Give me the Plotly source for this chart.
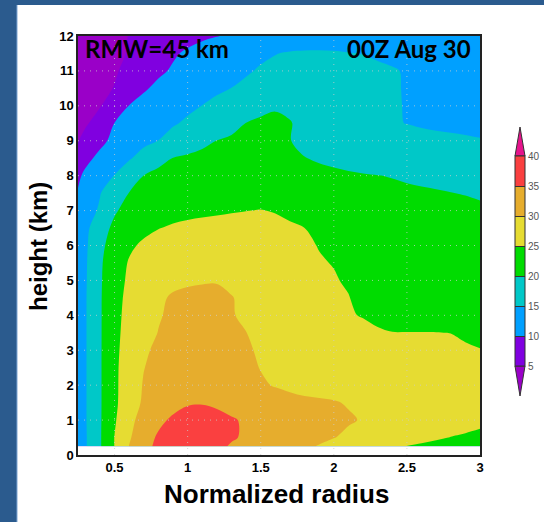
import plotly.graph_objects as go

# Normalized radius (r / RMW) and height (km) of the analysis grid
radius = [0.25, 0.3, 0.4, 0.5, 0.6, 0.7, 0.8, 0.9, 1.0, 1.1, 1.2, 1.3, 1.4, 1.5,
          1.6, 1.7, 1.8, 1.9, 2.0, 2.1, 2.2, 2.3, 2.4, 2.5, 2.6, 2.7, 2.8, 2.9, 3.0]
height = [0.25, 0.5, 1.0, 1.5, 2.0, 2.5, 3.0, 3.5, 4.0, 4.5, 5.0, 5.5, 6.0, 6.5,
          7.0, 7.5, 8.0, 8.5, 9.0, 9.5, 10.0, 10.5, 11.0, 11.5, 12.0]

# Azimuthal-mean tangential wind (m/s), one row per height
wind = [
    [12.0, 14.5, 19.5, 25.1, 30.1, 33.6, 36.0, 37.5, 38.0, 37.5, 36.0, 34.6, 33.8, 33.0, 32.2, 31.4, 30.6, 29.8, 29.0, 28.2, 27.3, 26.5, 25.7, 24.9, 24.4, 23.9, 23.5, 23.0, 22.5],
    [12.0, 14.5, 19.5, 25.1, 29.5, 33.0, 35.6, 37.3, 38.5, 37.8, 36.6, 35.4, 34.5, 33.8, 33.0, 32.3, 31.5, 30.8, 30.1, 29.4, 28.7, 28.1, 27.4, 26.8, 26.2, 25.5, 24.9, 24.5, 24.0],
    [12.5, 14.6, 19.5, 24.5, 28.8, 31.7, 34.0, 35.7, 37.1, 37.1, 36.2, 35.3, 34.6, 34.0, 33.4, 32.8, 32.2, 31.5, 30.9, 30.3, 29.8, 29.3, 28.8, 28.4, 27.9, 27.4, 26.9, 26.5, 26.0],
    [12.5, 14.6, 19.5, 24.1, 27.9, 30.6, 32.3, 33.5, 34.5, 34.7, 34.3, 33.8, 33.0, 32.2, 31.4, 30.9, 30.6, 30.4, 30.2, 29.8, 29.5, 29.2, 28.9, 28.6, 28.3, 28.0, 27.6, 27.3, 27.0],
    [12.5, 14.6, 19.5, 24.1, 27.6, 30.3, 31.6, 32.5, 32.9, 32.8, 32.3, 31.8, 31.1, 30.4, 29.8, 29.4, 29.0, 28.9, 28.8, 28.6, 28.5, 28.4, 28.3, 28.1, 28.0, 27.9, 27.8, 27.6, 27.5],
    [12.5, 14.6, 19.5, 24.1, 27.4, 29.9, 31.2, 32.0, 32.4, 32.4, 32.0, 31.4, 30.7, 29.9, 29.2, 28.8, 28.5, 28.3, 28.2, 28.1, 28.0, 27.9, 27.8, 27.6, 27.5, 27.4, 27.2, 27.1, 27.0],
    [12.3, 14.6, 19.5, 24.0, 27.0, 29.4, 30.8, 31.6, 32.0, 32.0, 31.6, 31.0, 30.4, 29.6, 28.9, 28.4, 28.1, 27.9, 27.7, 27.5, 27.3, 27.1, 26.9, 26.7, 26.5, 26.3, 26.0, 25.6, 25.2],
    [12.0, 14.6, 19.5, 23.9, 26.6, 28.6, 30.1, 31.1, 31.6, 31.6, 31.2, 30.6, 30.05, 29.2, 28.5, 28.0, 27.6, 27.2, 26.8, 26.4, 26.0, 25.5, 25.1, 25.1, 25.1, 25.1, 24.95, 24.3, 23.5],
    [11.8, 14.6, 19.5, 23.8, 26.3, 28.1, 29.7, 30.7, 31.2, 31.2, 30.9, 30.3, 29.2, 28.4, 27.8, 27.3, 26.8, 26.3, 25.8, 25.3, 24.8, 24.0, 23.2, 22.7, 22.5, 22.4, 22.3, 22.2, 22.0],
    [11.6, 14.6, 19.5, 23.7, 26.0, 27.7, 29.3, 30.5, 31.0, 31.0, 30.8, 30.2, 29.0, 28.2, 27.6, 27.0, 26.5, 26.0, 25.6, 25.1, 24.2, 23.3, 22.7, 22.4, 22.3, 22.2, 22.1, 22.0, 21.8],
    [11.4, 14.5, 19.4, 23.5, 25.6, 27.0, 28.2, 29.0, 29.4, 29.7, 29.8, 29.0, 28.2, 27.6, 27.0, 26.5, 26.0, 25.6, 25.2, 24.7, 23.9, 23.2, 22.7, 22.4, 22.3, 22.2, 22.1, 21.9, 21.7],
    [11.2, 14.4, 19.3, 23.0, 25.3, 26.4, 27.3, 27.8, 28.0, 28.1, 28.1, 27.8, 27.4, 27.0, 26.5, 26.0, 25.6, 25.2, 24.9, 24.3, 23.6, 23.0, 22.6, 22.3, 22.2, 22.1, 22.0, 21.8, 21.6],
    [11.0, 14.2, 18.9, 22.0, 24.4, 25.6, 26.3, 26.7, 26.9, 27.0, 27.0, 26.9, 26.7, 26.5, 26.2, 25.8, 25.4, 24.9, 24.2, 23.5, 23.0, 22.6, 22.3, 22.1, 22.0, 21.9, 21.8, 21.6, 21.4],
    [10.8, 13.8, 18.0, 21.0, 23.0, 24.1, 24.9, 25.4, 25.7, 25.9, 26.0, 26.1, 26.2, 26.2, 26.0, 25.5, 25.0, 24.3, 23.6, 23.0, 22.6, 22.2, 21.9, 21.7, 21.6, 21.4, 21.3, 21.1, 20.9],
    [10.5, 13.2, 15.5, 19.5, 21.5, 22.6, 23.4, 23.9, 24.2, 24.4, 24.6, 24.8, 24.95, 25.1, 24.8, 24.2, 23.6, 23.0, 22.4, 22.0, 21.7, 21.5, 21.3, 21.1, 21.0, 20.9, 20.8, 20.6, 20.4],
    [10.3, 12.4, 14.8, 17.5, 20.1, 21.2, 22.0, 22.5, 22.8, 23.0, 23.2, 23.3, 23.4, 23.4, 23.2, 22.8, 22.3, 21.9, 21.5, 21.2, 20.9, 20.7, 20.5, 20.4, 20.3, 20.2, 20.05, 19.9, 19.7],
    [9.3, 10.8, 13.5, 15.1, 17.8, 20.05, 21.0, 21.6, 21.9, 22.1, 22.3, 22.4, 22.5, 22.5, 22.2, 21.7, 21.3, 21.0, 20.7, 20.4, 20.2, 20.05, 19.9, 19.7, 19.5, 19.3, 19.1, 18.9, 18.7],
    [8.0, 8.9, 11.0, 13.0, 14.6, 16.6, 18.8, 20.1, 20.6, 20.9, 21.1, 21.3, 21.4, 21.5, 21.3, 20.9, 20.1, 19.6, 19.2, 18.9, 18.6, 18.3, 18.1, 17.9, 17.7, 17.5, 17.3, 17.1, 16.9],
    [4.8, 6.3, 9.0, 11.0, 12.6, 14.0, 15.05, 16.6, 18.0, 19.2, 20.05, 20.4, 20.7, 20.9, 20.7, 20.1, 19.0, 18.4, 18.0, 17.6, 17.2, 16.9, 16.6, 16.4, 16.1, 15.8, 15.6, 15.4, 15.2],
    [3.5, 4.5, 6.6, 10.1, 11.5, 12.6, 13.6, 14.6, 15.6, 16.8, 18.0, 19.2, 20.05, 20.6, 20.8, 20.3, 18.4, 17.3, 16.6, 16.1, 15.8, 15.5, 15.2, 14.95, 14.6, 14.4, 14.3, 14.2, 14.0],
    [2.5, 3.2, 4.8, 7.0, 10.1, 11.2, 12.2, 13.2, 14.2, 15.05, 16.2, 17.2, 18.2, 19.0, 19.6, 18.8, 17.6, 16.9, 16.4, 16.0, 15.7, 15.5, 15.2, 14.9, 14.2, 13.9, 13.7, 13.5, 13.3],
    [1.8, 2.4, 3.8, 5.2, 7.5, 9.6, 10.8, 11.8, 12.6, 13.4, 14.2, 15.05, 15.8, 16.6, 17.0, 16.9, 16.6, 16.3, 16.1, 15.9, 15.7, 15.5, 15.3, 14.8, 13.9, 13.4, 13.1, 12.9, 12.7],
    [1.2, 1.8, 3.0, 4.5, 6.3, 8.0, 9.4, 10.4, 11.2, 12.0, 12.8, 13.7, 14.6, 15.4, 15.9, 16.0, 16.0, 15.9, 15.8, 15.7, 15.6, 15.4, 15.2, 14.8, 13.8, 13.3, 13.0, 12.8, 12.6],
    [0.8, 1.3, 2.4, 3.8, 5.4, 7.0, 8.4, 9.6, 10.5, 11.2, 12.0, 12.8, 13.6, 14.3, 14.9, 15.3, 15.4, 15.4, 15.3, 15.1, 14.95, 14.7, 14.4, 14.0, 13.5, 13.1, 12.9, 12.7, 12.5],
    [0.5, 1.0, 2.0, 3.2, 5.2, 6.3, 7.3, 8.2, 8.9, 9.5, 9.9, 10.4, 11.0, 11.6, 12.1, 12.6, 13.0, 13.2, 13.3, 13.3, 13.2, 13.1, 12.9, 12.7, 12.5, 12.3, 12.2, 12.1, 12.0],
]

levels = [5, 10, 15, 20, 25, 30, 35, 40]
# fill colours: below 5, the seven 5-wide bands, above 40
band_colors = ["#9A00C8", "#8000E0", "#00A0FF", "#00C8C8", "#00DC00",
               "#E6DC32", "#E6AD2D", "#FA4040", "#E6138C"]
x_ticks = [0.5, 1, 1.5, 2, 2.5, 3]
x_tick_text = ["0.5", "1", "1.5", "2", "2.5", "3"]
y_ticks = list(range(0, 13))

# page geometry in pixels
W, H = 544, 522
PL, PR, PT, PB = 78, 480, 36, 455
pw, ph = PR - PL, PB - PT


def px_x(p):
    return (p - PL) / pw


def px_y(p):
    return (PB - p) / ph


def step_scale(colors):
    n = len(colors)
    out = []
    for i, c in enumerate(colors):
        out.append([i / n, c])
        out.append([(i + 1) / n, c])
    return out


fig = go.Figure()

fig.add_trace(go.Contour(
    x=radius, y=height, z=wind,
    colorscale=step_scale(band_colors),
    contours=dict(start=levels[0], end=levels[-1], size=5, coloring="fill"),
    line=dict(width=0),
    showscale=False,
    hoverinfo="skip",
))

# colour key for the 5-40 bands
fig.add_trace(go.Scatter(
    x=[None], y=[None], mode="markers", showlegend=False, hoverinfo="skip",
    marker=dict(
        color=[levels[0]], cmin=levels[0], cmax=levels[-1],
        colorscale=step_scale(band_colors[1:-1]), showscale=True,
        colorbar=dict(
            thickness=10, thicknessmode="pixels",
            len=210, lenmode="pixels",
            x=px_x(515), xanchor="left", xpad=0,
            y=px_y(261), yanchor="middle", ypad=0,
            tickvals=levels, ticks="inside", ticklen=10, tickwidth=1,
            tickcolor="#333333", outlinewidth=1, outlinecolor="#333333",
            tickfont=dict(family="Liberation Sans, Arial", size=10, color="#555555"),
        ),
    ),
))

shapes = []
# white panel over the blue frame
shapes.append(dict(type="rect", xref="paper", yref="paper",
                   x0=px_x(17), x1=px_x(W + 2), y0=px_y(H + 2), y1=px_y(5),
                   fillcolor="white", line=dict(width=0), layer="below"))
shapes.append(dict(type="line", xref="paper", yref="paper",
                   x0=px_x(17), x1=px_x(17), y0=px_y(H + 2), y1=px_y(5),
                   line=dict(color="#7FA6D4", width=1), layer="below"))
# arrow ends of the colour key
shapes.append(dict(type="path", xref="paper", yref="paper",
                   path=f"M {px_x(515)} {px_y(156)} L {px_x(525)} {px_y(156)} L {px_x(520)} {px_y(127)} Z",
                   fillcolor=band_colors[-1], line=dict(color="#333333", width=1)))
shapes.append(dict(type="path", xref="paper", yref="paper",
                   path=f"M {px_x(515)} {px_y(366)} L {px_x(525)} {px_y(366)} L {px_x(520)} {px_y(396)} Z",
                   fillcolor=band_colors[0], line=dict(color="#333333", width=1)))
# fine dotted grid drawn over the filled contours
grid_line = dict(color="rgba(205,205,205,0.75)", width=1, dash="1px,5px")
for xv in x_ticks[:-1]:
    shapes.append(dict(type="line", xref="x", yref="paper", x0=xv, x1=xv, y0=0, y1=1,
                       line=grid_line, layer="above"))
for yv in y_ticks[1:-1]:
    shapes.append(dict(type="line", xref="paper", yref="y", x0=0, x1=1, y0=yv, y1=yv,
                       line=grid_line, layer="above"))

tick_font = dict(family="Liberation Sans, Arial", size=13, color="black", weight="bold")

fig.update_layout(
    width=W, height=H,
    margin=dict(l=PL, r=W - PR, t=PT, b=H - PB, pad=0, autoexpand=False),
    paper_bgcolor="#2B5B8E",
    plot_bgcolor="white",
    showlegend=False,
    shapes=shapes,
    xaxis=dict(range=[0.25, 3], tickvals=x_ticks, ticktext=x_tick_text,
               showgrid=False, zeroline=False, showline=True, mirror=True,
               linecolor="#222222", linewidth=1.5, ticks="", tickfont=tick_font),
    yaxis=dict(range=[0, 12], tickvals=y_ticks, showgrid=False, zeroline=False,
               showline=True, mirror=True, linecolor="#222222", linewidth=1.5,
               ticks="", tickfont=tick_font),
    annotations=[
        dict(text="RMW=45 km", xref="paper", yref="paper", x=px_x(83), y=px_y(48),
             xanchor="left", yanchor="middle", showarrow=False,
             font=dict(family="Lato", size=24, color="black", weight="bold")),
        dict(text="00Z Aug 30", xref="paper", yref="paper", x=px_x(473), y=px_y(48),
             xanchor="right", yanchor="middle", showarrow=False,
             font=dict(family="Lato", size=24, color="black", weight="bold")),
        dict(text="Normalized radius", xref="paper", yref="paper", x=px_x(276), y=px_y(494),
             xanchor="center", yanchor="middle", showarrow=False,
             font=dict(family="Liberation Sans, Arial", size=26, color="black", weight="bold")),
        dict(text="height (km)", xref="paper", yref="paper", x=px_x(38), y=px_y(247),
             xanchor="center", yanchor="middle", showarrow=False, textangle=-90,
             font=dict(family="Liberation Sans, Arial", size=24, color="black", weight="bold")),
    ],
)

fig.write_html("out.html")
